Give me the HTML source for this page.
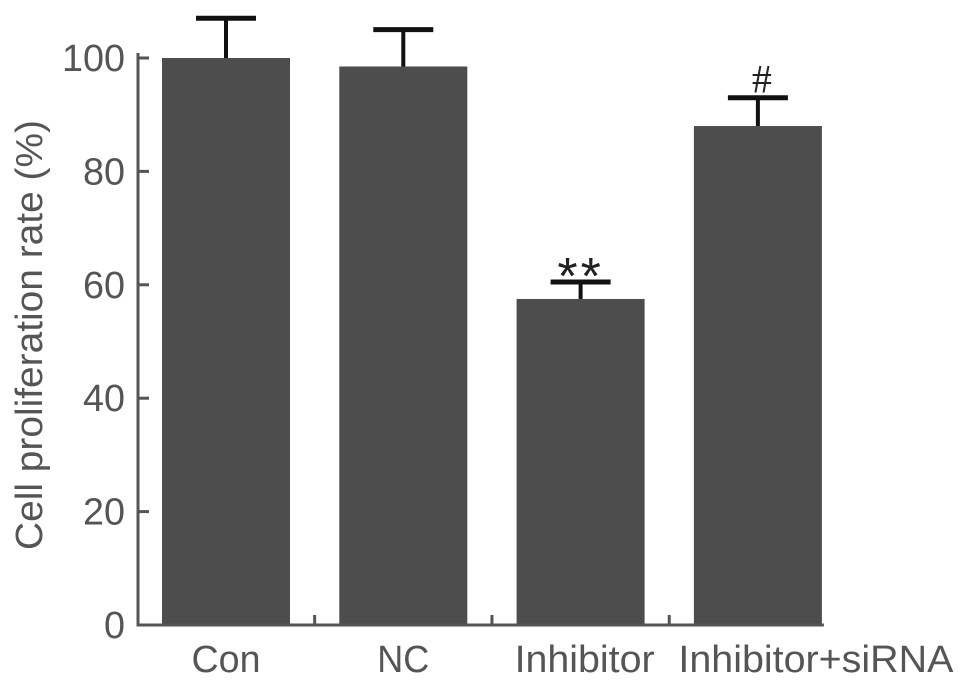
<!DOCTYPE html>
<html><head><meta charset="utf-8"><style>
html,body{margin:0;padding:0;background:#fff;}
svg{display:block;font-family:"Liberation Sans",Arial,sans-serif;}
</style></head><body>
<svg id="chart" width="969" height="683" viewBox="0 0 969 683"></svg>
<script>
const categories = ["Con","NC","Inhibitor","Inhibitor+siRNA"];
const values = [100,98.5,57.5,88];
const errors = [7,6.5,3,5];
const annotations = ["","","**","#"];
const yTicks = [0,20,40,60,80,100];

const NS="http://www.w3.org/2000/svg";
const svg=document.getElementById('chart');
const x0=138, y0=625, yTop=58, step=177.3, barW=128, firstLeft=162;
const labelLen=[69,52,140,275], labelShift=[0,0,4,58];
function yScale(v){return y0-(y0-yTop)*v/100;}
function xCenter(i){return firstLeft+barW/2+i*step;}
function mk(tag,attrs){const e=document.createElementNS(NS,tag);for(const k in attrs)e.setAttribute(k,attrs[k]);svg.appendChild(e);return e;}

categories.forEach((c,i)=>{
  const cx=xCenter(i), top=yScale(values[i]), et=yScale(values[i]+errors[i]);
  const b=mk('rect',{x:cx-barW/2,y:top,width:barW,height:y0-top,fill:'#4d4d4d'});
  
  
  const s=mk('line',{x1:cx,x2:cx,y1:top,y2:et,stroke:'#111',"stroke-width":4});
  
  
  const cap=mk('line',{x1:cx-30,x2:cx+30,y1:et,y2:et,stroke:'#111',"stroke-width":5});
  
  
  if(annotations[i]){
    const isHash=annotations[i]==='#';
    const a=mk('text',{x:cx+(isHash?4:0),y:isHash?et-5:et+12,"text-anchor":'middle',"font-size":isHash?40:52,fill:'#222',"font-family":isHash?'"Liberation Serif",serif':'"Liberation Sans",sans-serif',"letter-spacing":isHash?0:3});
    a.textContent=annotations[i];
    
    
  }
  const t=mk('text',{x:cx+labelShift[i]-labelLen[i]/2,y:672,"font-size":38,fill:'#555',textLength:labelLen[i],lengthAdjust:'spacingAndGlyphs'});
  t.textContent=c;
  
  
  if(i<categories.length-1){
    const tx=cx+step/2;
    const tk=mk('line',{x1:tx,x2:tx,y1:y0,y2:y0-10,stroke:'#555',"stroke-width":3});
    
    
  }
});
yTicks.forEach(v=>{
  const y=yScale(v);
  const tk=mk('line',{x1:x0,x2:x0+11,y1:y,y2:y,stroke:'#555',"stroke-width":3});
  
  
  const w=String(v).length*21;
  const t=mk('text',{x:x0-13-w,y:y+13,"font-size":38,fill:'#555',textLength:w,lengthAdjust:'spacingAndGlyphs'});
  t.textContent=v;
  
  
});
const ax=mk('path',{d:`M${x0} ${yTop-5} V${y0} H${xCenter(3)+barW/2+2}`,fill:'none',stroke:'#555',"stroke-width":3});


const yt=mk('text',{x:0,y:0,transform:'translate(42,550) rotate(-90)',"font-size":38,fill:'#555',textLength:430,lengthAdjust:'spacingAndGlyphs'});
yt.textContent='Cell proliferation rate (%)';


</script>
</body></html>
